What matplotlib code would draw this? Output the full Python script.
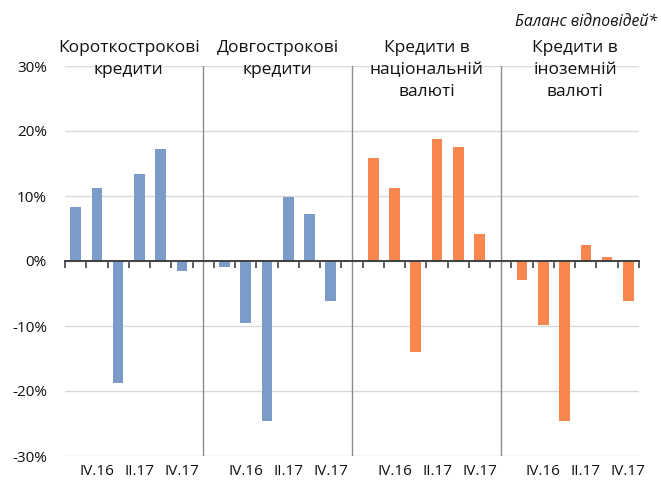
import matplotlib
matplotlib.use("Agg")
import matplotlib.pyplot as plt
import numpy as np

# balance of responses, %
quarters = ["III.16", "IV.16", "I.17", "II.17", "III.17", "IV.17"]
short_term = [8.3, 11.2, -18.8, 13.4, 17.3, -1.6]
long_term = [-0.9, -9.6, -24.6, 9.9, 7.2, -6.1]
national_ccy = [15.8, 11.2, -14.0, 18.7, 17.6, 4.1]
foreign_ccy = [-2.9, -9.8, -24.6, 2.4, 0.6, -6.2]

group_titles = ["Короткострокові\nкредити", "Довгострокові\nкредити",
                "Кредити в\nнаціональній\nвалюті", "Кредити в\nіноземній\nвалюті"]
groups = [short_term, long_term, national_ccy, foreign_ccy]
BLUE, ORANGE = "#7b9cc9", "#f8874f"
colors = [BLUE, BLUE, ORANGE, ORANGE]

plt.rcParams["font.family"] = ["Open Sans", "DejaVu Sans"]

W, H = 661, 488
fig = plt.figure(figsize=(W / 100, H / 100), dpi=100)
ax = fig.add_axes([65 / W, 1 - 456 / H, (639 - 65) / W, (456 - 66) / H])

n = len(quarters)
step = n + 1  # one empty slot between groups
label_pos, label_txt = [], []
for g, (vals, col) in enumerate(zip(groups, colors)):
    x = g * step + np.arange(n)
    ax.bar(x, vals, width=0.5, color=col, zorder=3)
    for i in range(1, n, 2):
        label_pos.append(g * step + i)
        label_txt.append(quarters[i])
    ax.text(g * step + (n - 1) / 2, 1.067, group_titles[g], transform=ax.get_xaxis_transform(),
            ha="center", va="top", fontsize=12.5, linespacing=1.5, color="#111111")
    if g < len(groups) - 1:
        ax.axvline(g * step + n, color="#8c8c8c", lw=1, zorder=2.6)

total = len(groups) * step - 1
ax.set_xlim(-0.5, total - 0.5)
ax.set_ylim(-30, 30)
ax.set_yticks(np.arange(-30, 31, 10))
ax.set_yticklabels([f"{v}%" for v in range(-30, 31, 10)])
ax.grid(axis="y", color="#d9d9d9", lw=1)
ax.set_axisbelow(False)  # grid/ticks at zorder 2.5, bars above the grid
for s in ("top", "left", "right"):
    ax.spines[s].set_visible(False)
ax.tick_params(axis="y", length=0, pad=13, labelsize=11, labelcolor="#111111")

# zero line with category tick marks pointing down
ax.spines["bottom"].set_position(("data", 0))
ax.spines["bottom"].set_color("#404040")
ax.spines["bottom"].set_linewidth(1.4)
ax.spines["bottom"].set_zorder(4)
ax.set_xticks(np.arange(-0.5, total, 1.0))
ax.set_xticklabels([])
ax.tick_params(axis="x", direction="out", length=5, width=1.2, color="#404040")

# quarter labels along the bottom of the plot
lx = ax.secondary_xaxis("bottom")
lx.set_xticks(label_pos)
lx.set_xticklabels(label_txt)
lx.tick_params(axis="x", length=0, pad=6, labelsize=11, labelcolor="#111111")
lx.spines["bottom"].set_visible(False)

fig.text(657 / W, 1 - 22 / H, "Баланс відповідей*", ha="right", va="center",
         fontsize=11.3, style="italic", color="#111111")

fig.savefig("out.png", dpi=100)
